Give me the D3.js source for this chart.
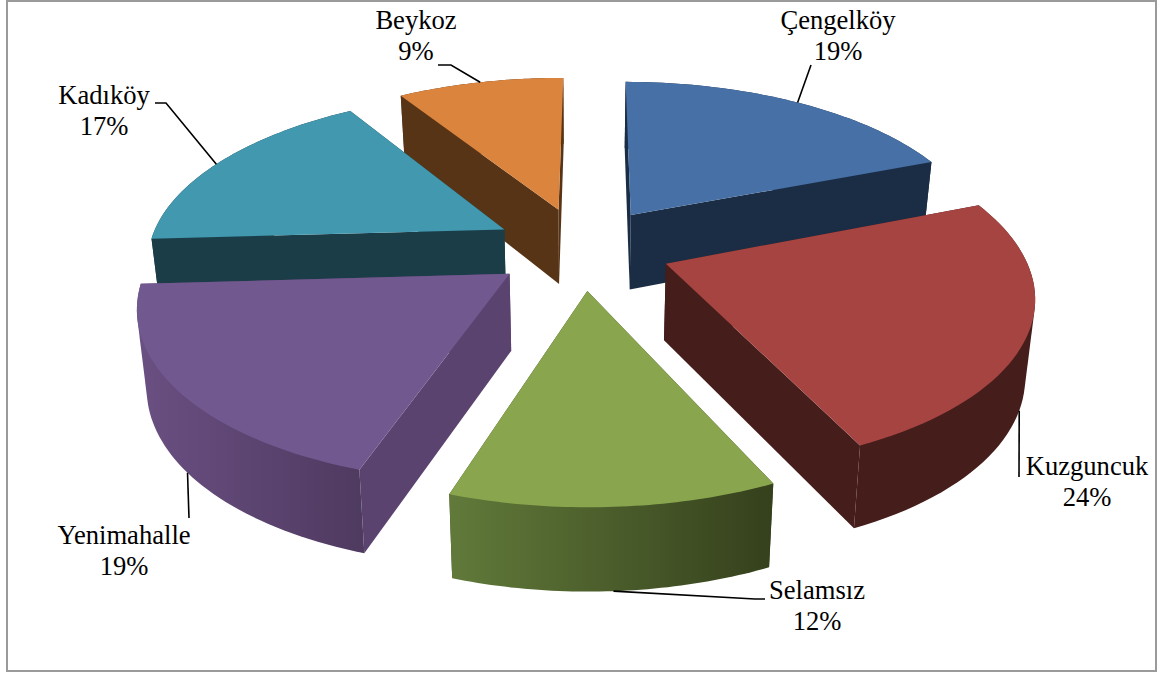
<!DOCTYPE html>
<html><head><meta charset="utf-8">
<script src="https://cdnjs.cloudflare.com/ajax/libs/d3/7.8.5/d3.min.js"></script>
<style>html,body{margin:0;padding:0;background:#fff}svg{display:block}</style>
</head><body><svg id="c" width="1158" height="673"></svg>
<script>
const categories=["Çengelköy","Kuzguncuk","Selamsız","Yenimahalle","Kadıköy","Beykoz"];
const shares=[19,24,12,19,17,9];
const topColors=["#4670a6","#a64442","#89a54e","#71588f","#4198af","#db843d"];
const cutColors=["#1b2d45","#451d1b","#38451e","#5b4370","#1b3d48","#583416"];
const wallColorsFrom=["#1b2d45","#451d1b","#35401c","#4f3a60","#1b3d48","#583416"];
const wallColorsTo=["#1b2d45","#451d1b","#617a3a","#6a4f82","#1b3d48","#583416"];
const drawOrder=[5,4,0,3,1,2];
// label layout: text centre x, first baseline, leader elbow points, fraction along the slice arc, wall flag
const labelX=[838,1087,817,124,104,416];
const labelY=[29,475,599,544,104,29];
const leaderEnds=[[[811,65]],[[1019,477]],[[765,599],[755,599]],[[189,518]],[[155,103],[166,103]],[[438,65],[451,65]]];
const leaderFrac=[.5,.5,.5,.5,.48,.5];
const leaderZ=[0,1,1,1,0,0];

const W=1158,H=673;
const cx=582,cy=248,ax=356,ay=165,persp=6.1,explode=.25,rot=.3*Math.PI/180,bottomShrink=.022;
const sx=d3.scaleLinear().domain([0,1]).range([cx,cx+ax]);
const sy=d3.scaleLinear().domain([0,1]).range([cy,cy+ay]);
function proj(X,Y,z){
  const s=1/(1-Y/persp)*(1-bottomShrink*z);
  const lift=z*(76+11.2*Y);
  return [sx(X*s),sy(Y*s)+lift];
}
const pie=d3.pie().sort(null).value(d=>d).startAngle(rot).endAngle(rot+2*Math.PI);
const arcs=pie(shares);
function apexOf(a){const m=(a.startAngle+a.endAngle)/2;return [explode*Math.sin(m),-explode*Math.cos(m)];}
function rim(a,t,z){
  const [ex,ey]=apexOf(a);const th=a.startAngle+(a.endAngle-a.startAngle)*t;
  return proj(ex+Math.sin(th),ey-Math.cos(th),z);
}
const line=d3.line();
const svg=d3.select("#c");
const defs=svg.append("defs");
svg.append("rect").attr("x",7).attr("y",1).attr("width",1149).attr("height",670)
  .attr("fill","#fff").attr("stroke","#9a9a9a").attr("stroke-width",2);
const n=48,ts=d3.range(n+1).map(i=>i/n);
const g=svg.append("g");
drawOrder.forEach(i=>{
  const a=arcs[i],[ex,ey]=apexOf(a);
  const sl=g.append("g").attr("class","slice");
  const ap0=proj(ex,ey,0),ap1=proj(ex,ey,1);
  // radial cut faces
  [0,1].forEach(t=>{
    sl.append("path").attr("d",line([ap0,rim(a,t,0),rim(a,t,1),ap1])+"Z").attr("fill",cutColors[i]);
  });
  // outer wall: the hull of both rims, the top face hides its inner side
  const grad=defs.append("linearGradient").attr("id","wall"+i).attr("gradientUnits","userSpaceOnUse")
    .attr("x1",rim(a,0,0)[0]).attr("y1",0).attr("x2",rim(a,1,0)[0]).attr("y2",0);
  grad.append("stop").attr("offset",0).attr("stop-color",wallColorsFrom[i]);
  grad.append("stop").attr("offset",1).attr("stop-color",wallColorsTo[i]);
  const hull=d3.polygonHull([...ts.map(t=>rim(a,t,0)),...ts.map(t=>rim(a,t,1))]);
  sl.append("path").attr("d",line(hull)+"Z").attr("fill",`url(#wall${i})`);
  // top face
  sl.append("path").attr("d",line([ap0,...ts.map(t=>rim(a,t,0))])+"Z").attr("fill",topColors[i]);
});
categories.forEach((c,i)=>{
  const a=arcs[i];
  svg.append("path").attr("d",line([...leaderEnds[i],rim(a,leaderFrac[i],leaderZ[i])]))
    .attr("fill","none").attr("stroke","#000").attr("stroke-width",1.6);
  const t=svg.append("text").attr("text-anchor","middle").attr("font-family","'Liberation Serif'")
    .attr("font-size",26.6).attr("fill","#000");
  t.append("tspan").attr("x",labelX[i]).attr("y",labelY[i]).text(c);
  t.append("tspan").attr("x",labelX[i]).attr("y",labelY[i]+31).text(shares[i]+"%");
});
</script></body></html>
